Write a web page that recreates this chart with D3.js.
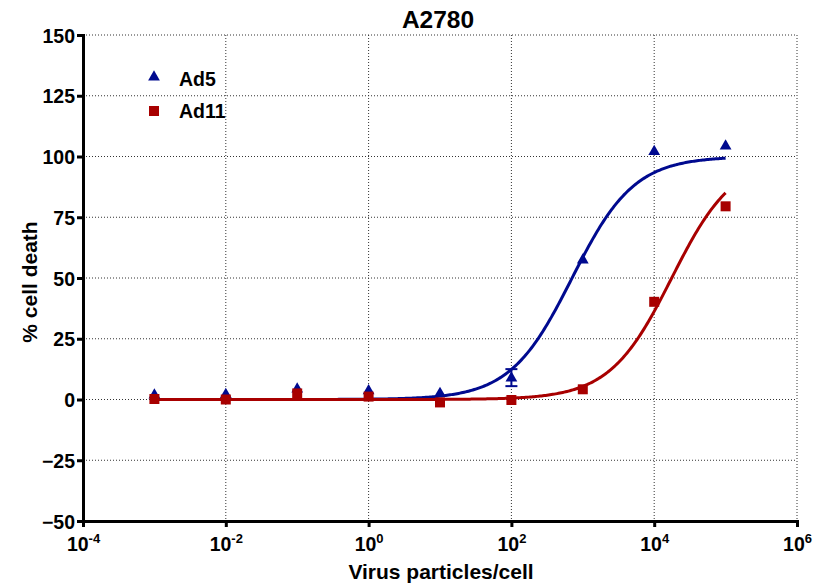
<!DOCTYPE html>
<html><head><meta charset="utf-8">
<script src="https://cdn.jsdelivr.net/npm/d3@7"></script>
<style>body{margin:0;background:#fff}svg{display:block}text{font-family:"Liberation Sans",Arial,sans-serif;font-weight:bold}</style>
</head><body><div id="chart"></div>
<script>
const doses = [1e-3, 1e-2, 1e-1, 1, 10, 100, 1000, 1e4, 1e5];
const ad5 = [1.8, 2.0, 4.3, 3.6, 2.5, 8.8, 57.4, 102, 104.3];
const ad5ErrLow = [null, null, null, null, null, 5.5, null, null, null];
const ad5ErrHigh = [null, null, null, null, null, 12.5, null, null, null];
const ad11 = [0.2, 0.0, 2.5, 1.2, -1.2, -0.2, 4.2, 40.2, 79.5];
// fitted sigmoid parameters
const ad5Fit = {bottom: 0, top: 100, logEC50: 2.85, hill: 1};
const ad11Fit = {bottom: 0, top: 100, logEC50: 4.245, hill: 1};
const xTicks = [1e-4, 1e-2, 1, 1e2, 1e4, 1e6];
const xTickExp = ["-4", "-2", "0", "2", "4", "6"];
const yTicks = [-50, -25, 0, 25, 50, 75, 100, 125, 150];

const W = 821, H = 588;
const m = {l: 83, r: 24, t: 35, b: 67};
const svg = d3.select("#chart").append("svg").attr("width", W).attr("height", H);
const x = d3.scaleLog().domain([1e-4, 1e6]).range([m.l, W - m.r]);
const y = d3.scaleLinear().domain([-50, 150]).range([H - m.b, m.t]);
const blue = "#000a8f", red = "#a80000";

// grid
const g = svg.append("g");
g.selectAll("line.h").data(yTicks.filter(d => d > -50)).join("line")
  .attr("x1", m.l).attr("x2", W - m.r).attr("y1", d => y(d)).attr("y2", d => y(d))
  .attr("stroke", "#333").attr("stroke-width", 1).attr("stroke-dasharray", "1,2");
g.selectAll("line.v").data(xTicks.slice(1)).join("line")
  .attr("y1", m.t).attr("y2", H - m.b).attr("x1", d => x(d)).attr("x2", d => x(d))
  .attr("stroke", "#333").attr("stroke-width", 1).attr("stroke-dasharray", "1,2");

// axes
const xAxis = svg.append("g").attr("transform", `translate(0,${H - m.b})`)
  .call(d3.axisBottom(x).tickValues(xTicks).tickSize(6).tickFormat(""));
const yAxis = svg.append("g").attr("transform", `translate(${m.l},0)`)
  .call(d3.axisLeft(y).tickValues(yTicks).tickSize(6).tickFormat(d3.format("d")));
[xAxis, yAxis].forEach(a => {
  a.select(".domain").attr("stroke", "#000").attr("stroke-width", 3);
  a.selectAll(".tick line").attr("stroke", "#000").attr("stroke-width", 3);
});
yAxis.selectAll(".tick text").attr("font-size", 19.5).attr("fill", "#000").attr("x", -8).attr("dy", "0.36em")
  .style("font-family", '"Liberation Sans",Arial,sans-serif').style("font-weight", "bold");
xAxis.selectAll(".tick").each(function(d, i) {
  const t = d3.select(this).append("text").attr("y", 30).attr("text-anchor", "middle")
    .attr("fill", "#000").attr("font-size", 19.5);
  t.append("tspan").text("10");
  t.append("tspan").attr("dy", -8).attr("font-size", 13).text(xTickExp[i]);
});

// curves
function fitPts(p) {
  const pts = [];
  for (let lx = -3; lx <= 5.0001; lx += 0.02) {
    pts.push([Math.pow(10, lx), p.bottom + (p.top - p.bottom) / (1 + Math.pow(10, (p.logEC50 - lx) * p.hill))]);
  }
  return pts;
}
const line = d3.line().x(d => x(d[0])).y(d => y(d[1])).curve(d3.curveLinear);
svg.append("path").attr("d", line(fitPts(ad5Fit))).attr("fill", "none").attr("stroke", blue).attr("stroke-width", 3);
svg.append("path").attr("d", line(fitPts(ad11Fit))).attr("fill", "none").attr("stroke", red).attr("stroke-width", 3);

// error bars
doses.forEach((d, i) => {
  if (ad5ErrLow[i] == null) return;
  const cx = x(d);
  svg.append("line").attr("x1", cx).attr("x2", cx).attr("y1", y(ad5ErrLow[i])).attr("y2", y(ad5ErrHigh[i])).attr("stroke", blue).attr("stroke-width", 2);
  [ad5ErrLow[i], ad5ErrHigh[i]].forEach(v => svg.append("line").attr("x1", cx - 6).attr("x2", cx + 6).attr("y1", y(v)).attr("y2", y(v)).attr("stroke", blue).attr("stroke-width", 2));
});

// markers
const tri = d3.symbol().type(d3.symbolTriangle).size(60);
const sq = d3.symbol().type(d3.symbolSquare).size(100);
svg.selectAll("path.ad5").data(doses).join("path")
  .attr("d", tri).attr("fill", blue).attr("transform", (d, i) => `translate(${x(d)},${y(ad5[i])})`);
svg.selectAll("path.ad11").data(doses).join("path")
  .attr("d", sq).attr("fill", red).attr("transform", (d, i) => `translate(${x(d)},${y(ad11[i])})`);

// legend
svg.append("path").attr("d", tri).attr("fill", blue).attr("transform", "translate(154,77)");
svg.append("text").attr("x", 179).attr("y", 86).attr("font-size", 19.5).text("Ad5");
svg.append("path").attr("d", sq).attr("fill", red).attr("transform", "translate(154,111)");
svg.append("text").attr("x", 179).attr("y", 118).attr("font-size", 19.5).text("Ad11");

// titles
svg.append("text").attr("x", 438).attr("y", 28).attr("text-anchor", "middle").attr("font-size", 24.5).text("A2780");
svg.append("text").attr("x", 441).attr("y", 579).attr("text-anchor", "middle").attr("font-size", 21).text("Virus particles/cell");
svg.append("text").attr("transform", `translate(37,282) rotate(-90)`).attr("text-anchor", "middle").attr("font-size", 21).text("% cell death");
</script></body></html>
